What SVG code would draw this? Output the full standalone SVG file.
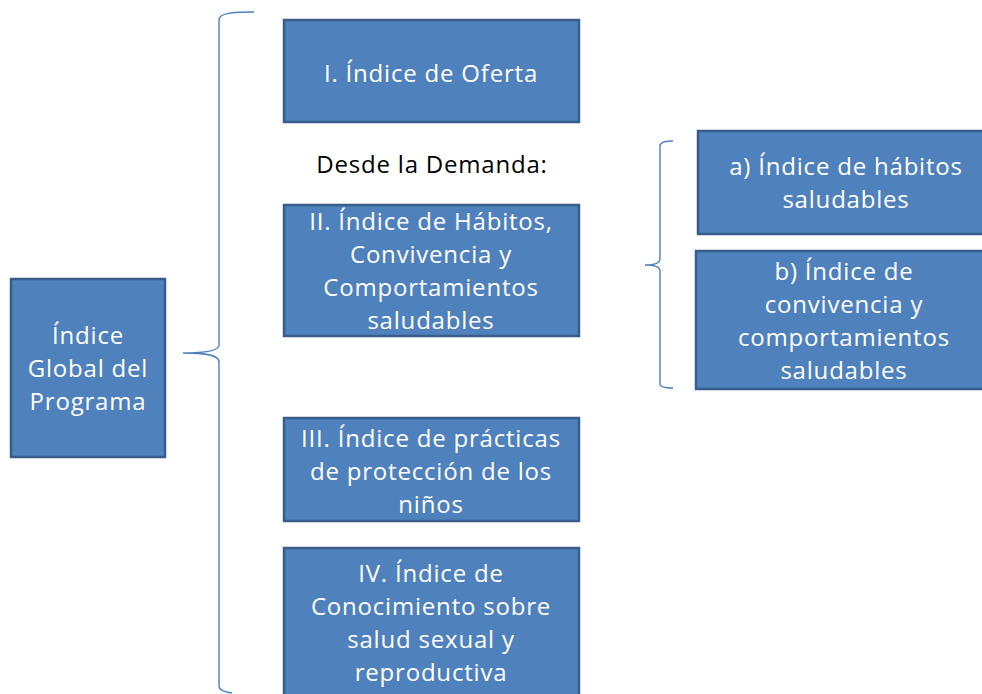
<svg xmlns="http://www.w3.org/2000/svg" width="982" height="694" viewBox="0 0 982 694">
<style>
.box{fill:#4F81BD;stroke:#385D8A;stroke-width:2.5}
.t{font-family:"Open Sans","Liberation Sans",sans-serif;font-size:24px;letter-spacing:0.8px;fill:#FFFFFF;text-anchor:middle}
.k{font-family:"Open Sans","Liberation Sans",sans-serif;font-size:24px;letter-spacing:0.8px;fill:#000000;text-anchor:middle}
.br{fill:none;stroke:#4F81BD;stroke-width:1.4}
</style>
<rect width="982" height="694" fill="#FFFFFF"/>
<g id="connectors">
<path class="br" d="M254,12 C232,12 219,13 219,20 L219,345 C219,350 210,353 183,353 C210,353 219,356 219,362 L219,686 C219,690 224,692 232,693"/>
<path class="br" d="M673,141 C665,141 660,142 660,146 L660,259 C660,263 655,265 645,265 C655,265 660,267 660,271 L660,384 C660,387 665,388 673,388"/>
</g>
<g id="global">
<rect class="box" x="11" y="279" width="154" height="178"/>
<text class="t" x="88" y="344">Índice</text>
<text class="t" x="88" y="377">Global del</text>
<text class="t" x="88" y="410">Programa</text>
</g>
<g id="oferta">
<rect class="box" x="284" y="20" width="295" height="102"/>
<text class="t" x="431" y="82">I. Índice de Oferta</text>
</g>
<g id="demanda-label">
<text class="k" x="432" y="173">Desde la Demanda:</text>
</g>
<g id="habitos">
<rect class="box" x="284" y="205" width="295" height="131"/>
<text class="t" x="431" y="230">II. Índice de Hábitos,</text>
<text class="t" x="431" y="263">Convivencia y</text>
<text class="t" x="431" y="296">Comportamientos</text>
<text class="t" x="431" y="329">saludables</text>
</g>
<g id="practicas">
<rect class="box" x="284" y="418" width="295" height="103"/>
<text class="t" x="431" y="447">III. Índice de prácticas</text>
<text class="t" x="431" y="480">de protección de los</text>
<text class="t" x="431" y="513">niños</text>
</g>
<g id="conocimiento">
<rect class="box" x="284" y="548" width="295" height="160"/>
<text class="t" x="431" y="582">IV. Índice de</text>
<text class="t" x="431" y="615">Conocimiento sobre</text>
<text class="t" x="431" y="648">salud sexual y</text>
<text class="t" x="431" y="681">reproductiva</text>
</g>
<g id="sub-a">
<rect class="box" x="698" y="131" width="296" height="103"/>
<text class="t" x="846" y="175">a) Índice de hábitos</text>
<text class="t" x="846" y="208">saludables</text>
</g>
<g id="sub-b">
<rect class="box" x="696" y="251" width="296" height="138"/>
<text class="t" x="844" y="280">b) Índice de</text>
<text class="t" x="844" y="313">convivencia y</text>
<text class="t" x="844" y="346">comportamientos</text>
<text class="t" x="844" y="379">saludables</text>
</g>
</svg>
